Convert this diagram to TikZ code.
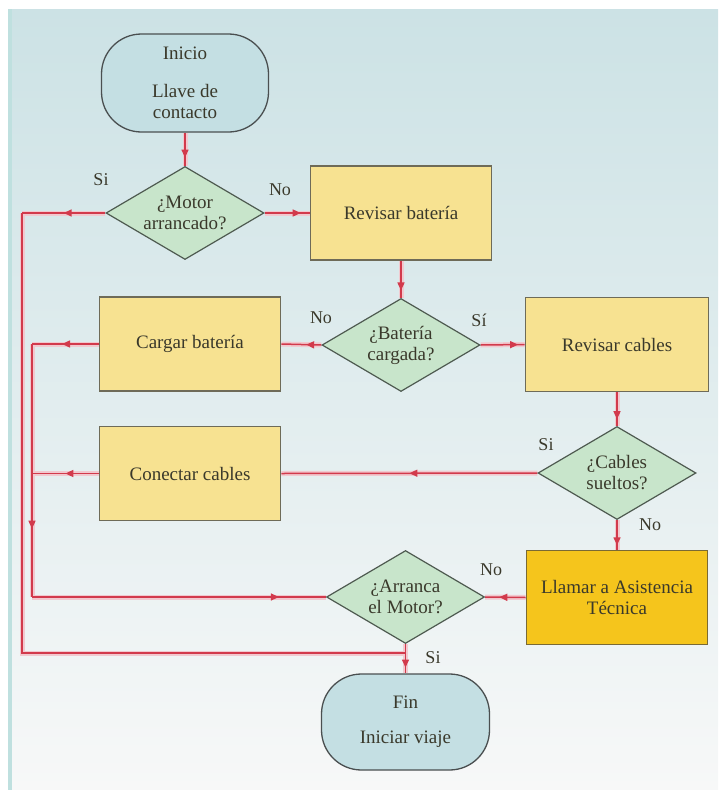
\documentclass[tikz,border=0pt]{standalone}
\usepackage{fontspec}
\setmainfont{Liberation Serif}
\usetikzlibrary{shapes.geometric,arrows.meta,decorations.markings,backgrounds}

\definecolor{txt}{HTML}{3A392B}
\definecolor{termfill}{HTML}{C4DFE3}
\definecolor{termline}{HTML}{4A4F50}
\definecolor{boxfill}{HTML}{F7E291}
\definecolor{boxline}{HTML}{6E6B58}
\definecolor{goldfill}{HTML}{F5C51C}
\definecolor{goldline}{HTML}{7A6A34}
\definecolor{decfill}{HTML}{C8E5CB}
\definecolor{decline}{HTML}{4E5A50}
\definecolor{flowred}{HTML}{D23A4C}
\definecolor{flowhalo}{HTML}{F1C9CF}
\definecolor{bgtop}{HTML}{CCE2E5}
\definecolor{bgmid}{HTML}{DDEAED}
\definecolor{bgbot}{HTML}{F7F8F8}
\definecolor{edge}{HTML}{BFE0DF}

\tikzset{
  base/.style={text=txt, align=center, font=\fontsize{19}{21}\selectfont},
  term/.style={base, draw=termline, fill=termfill, line width=1.3pt,
    rounded corners=40pt, minimum width=167pt, minimum height=98pt},
  proc/.style={base, draw=boxline, fill=boxfill, line width=1.6pt,
    minimum width=181pt, minimum height=94pt},
  alert/.style={proc, draw=goldline, fill=goldfill},
  decision/.style={base, diamond, draw=decline, fill=decfill, line width=1.2pt,
    inner xsep=-14pt, inner ysep=-8pt, aspect=1.7,
    minimum width=158pt, minimum height=93pt},
  answer/.style={text=txt, font=\fontsize{18}{20}\selectfont, inner sep=0pt},
  arr/.style={postaction={decorate, decoration={markings,
    mark=at position #1 with {\arrow[flowred]{Triangle[length=8pt,width=7pt]}}}}},
}

% all connectors; drawn once as a soft pink underlay, then in red
\newcommand\wiring{%
  \draw[flow,arr=0.75] (inicio.south) -- (d1.north);
  \draw[flow,arr=0.8] (d1.east) -- (revbat.west);
  \draw[flow,arr=0.5] (d1.west) -- (l1);
  \draw[flow] (l1) |- (j1);
  \draw[flow,arr=0.8] (revbat.south) -- (d2.north);
  \draw[flow,arr=0.38] (d2.west) -- (cargar.east);
  \draw[flow,arr=0.85] (d2.east) -- (revcab.west);
  \draw[flow,arr=0.55] (cargar.west) -- (l2);
  \draw[flow,arr=0.73] (l2) -- (l4);
  \draw[flow,arr=0.84] (l4) -- (d3.west);
  \draw[flow,arr=0.5] (conectar.west) -- (l3);
  \draw[flow,arr=0.8] (revcab.south) -- (d4.north);
  \draw[flow,arr=0.5] (d4.west) -- (conectar.east);
  \draw[flow,arr=0.85] (d4.south) -- (llamar.north);
  \draw[flow,arr=0.65] (llamar.west) -- (d3.east);
  \draw[flow,arr=0.8] (d3.south) -- (fin.north);
}

\begin{document}
\begin{tikzpicture}[x=1pt,y=-1pt]
\useasboundingbox (0,0) rectangle (718,790);

% blocks
\node[term] (inicio) at (185,83) {Inicio\\[17pt]Llave de\\contacto};
\node[decision] (d1) at (185,213) {¿Motor\\arrancado?};
\node[proc] (revbat) at (401,213) {Revisar batería};
\node[decision] (d2) at (401,345) {¿Batería\\cargada?};
\node[proc] (cargar) at (190,344) {Cargar batería};
\node[proc, minimum width=183pt] (revcab) at (617,344.5) {Revisar cables};
\node[decision] (d4) at (617,473) {¿Cables\\sueltos?};
\node[proc] (conectar) at (190,473.5) {Conectar cables};
\node[alert] (llamar) at (617,597.5) {Llamar a Asistencia\\Técnica};
\node[decision] (d3) at (405.5,597) {¿Arranca\\el Motor?};
\node[term, minimum width=168pt, minimum height=96pt] (fin) at (405.5,722) {Fin\\[14pt]Iniciar viaje};

% branch answers
\node[answer] (s1) at (101,180) {Si};
\node[answer] (n1) at (280,190) {No};
\node[answer] (n2) at (321,318) {No};
\node[answer] (s2) at (479,320) {Sí};
\node[answer] (s4) at (546,445) {Si};
\node[answer] (n4) at (650,525) {No};
\node[answer] (n3) at (491,570) {No};
\node[answer] (s3) at (433,658) {Si};

% bends of the return lines
\coordinate (l1) at (22,213);
\coordinate (j1) at (405.5,653);
\coordinate (l2) at (32,344);
\coordinate (l3) at (32,473.5);
\coordinate (l4) at (32,597);

\begin{pgfonlayer}{background}
  \fill[white] (0,0) rectangle (718,790);
  \shade[top color=bgtop, middle color=bgmid, bottom color=bgbot] (8,9) rectangle (718,790);
  \fill[edge] (8,9) rectangle (12,790);

  \begin{scope}[flow/.style={draw=flowhalo, line width=5pt}, arr/.style={}]
    \wiring
  \end{scope}
  \begin{scope}[flow/.style={draw=flowred, line width=1.5pt}]
    \wiring
  \end{scope}
\end{pgfonlayer}
\end{tikzpicture}
\end{document}
